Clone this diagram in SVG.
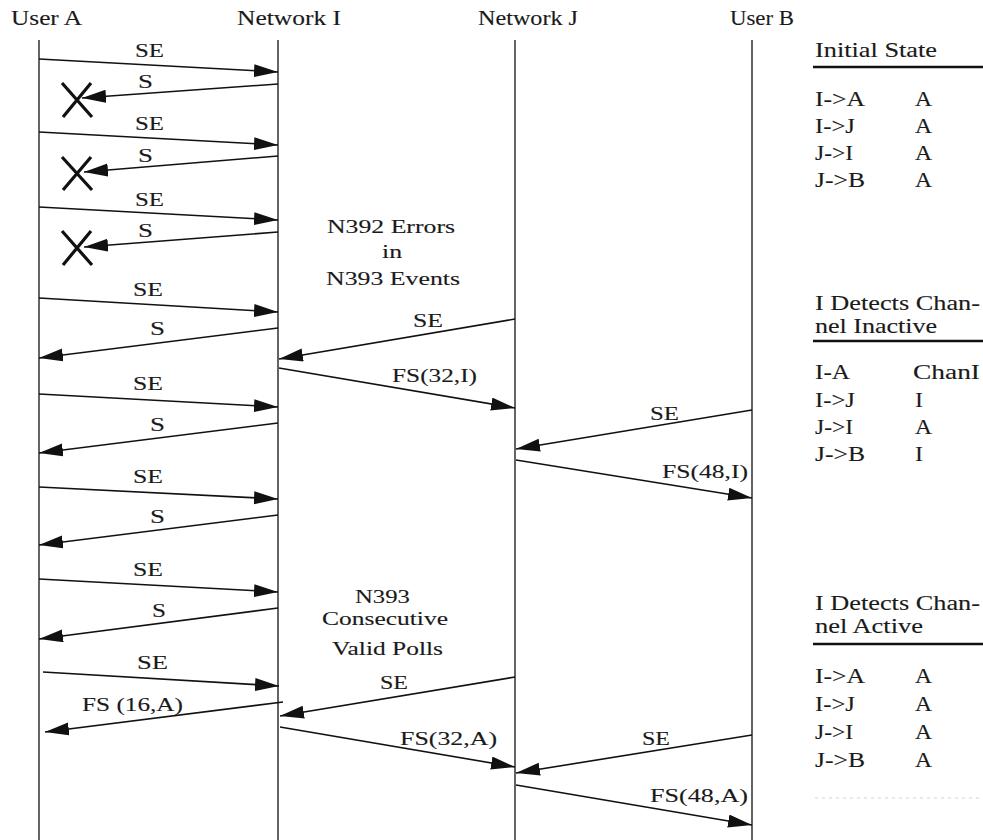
<svg xmlns="http://www.w3.org/2000/svg" width="983" height="840" viewBox="0 0 983 840">
<style>
text{font-family:"Liberation Serif","Times New Roman",serif;fill:#1a1a1a;stroke:#1a1a1a;stroke-width:0.12}
.h{font-size:20px}
.l{font-size:19.5px}
.t{font-size:21px}
.life{stroke:#222;stroke-width:1.4;fill:none}
.msg{stroke:#111;stroke-width:1.6;fill:none;marker-end:url(#ah)}
.x{stroke:#111;stroke-width:3.2;fill:none}
.rule{stroke:#111;stroke-width:2.5}
.faint{stroke:#d4d4d4;stroke-width:1;stroke-dasharray:3 4}
</style>
<defs>
<marker id="ah" markerUnits="userSpaceOnUse" markerWidth="26" markerHeight="14" refX="24" refY="6.5" orient="auto">
<path d="M0,0 L24,6.5 L0,13 z" fill="#111"/>
</marker>
</defs>
<rect width="983" height="840" fill="#fff"/>

<g id="userA">
<text class="h" x="11" y="25" textLength="71" lengthAdjust="spacingAndGlyphs">User A</text>
<line class="life" x1="39" y1="40" x2="39" y2="840"/>
</g>
<g id="networkI">
<text class="h" x="237" y="25" textLength="104" lengthAdjust="spacingAndGlyphs">Network I</text>
<line class="life" x1="278" y1="40" x2="278" y2="840"/>
</g>
<g id="networkJ">
<text class="h" x="478" y="25" textLength="100" lengthAdjust="spacingAndGlyphs">Network J</text>
<line class="life" x1="515" y1="40" x2="515" y2="840"/>
</g>
<g id="userB">
<text class="h" x="730" y="25" textLength="64" lengthAdjust="spacingAndGlyphs">User B</text>
<line class="life" x1="752" y1="40" x2="752" y2="840"/>
</g>

<g id="connectors">
<line class="msg" x1="39" y1="59" x2="278" y2="72"/>
<line class="msg" x1="278" y1="84" x2="82" y2="98"/>
<line class="msg" x1="39" y1="132" x2="278" y2="145"/>
<line class="msg" x1="278" y1="156" x2="84" y2="172"/>
<line class="msg" x1="39" y1="207" x2="278" y2="220"/>
<line class="msg" x1="278" y1="232" x2="84" y2="247"/>
<line class="msg" x1="39" y1="298" x2="278" y2="312"/>
<line class="msg" x1="278" y1="328" x2="39" y2="358"/>
<line class="msg" x1="39" y1="394" x2="278" y2="407"/>
<line class="msg" x1="278" y1="423" x2="39" y2="453"/>
<line class="msg" x1="39" y1="487" x2="278" y2="499"/>
<line class="msg" x1="278" y1="515" x2="39" y2="545"/>
<line class="msg" x1="39" y1="579" x2="278" y2="592"/>
<line class="msg" x1="278" y1="608" x2="39" y2="639"/>
<line class="msg" x1="43" y1="672" x2="279" y2="686"/>
<line class="msg" x1="283" y1="702" x2="45" y2="732"/>
<line class="msg" x1="515" y1="319" x2="279" y2="359"/>
<line class="msg" x1="279" y1="368" x2="515" y2="408"/>
<line class="msg" x1="752" y1="410" x2="516" y2="449"/>
<line class="msg" x1="516" y1="460" x2="752" y2="498"/>
<line class="msg" x1="515" y1="677" x2="280" y2="716"/>
<line class="msg" x1="280" y1="727" x2="515" y2="767"/>
<line class="msg" x1="752" y1="735" x2="516" y2="773"/>
<line class="msg" x1="516" y1="785" x2="752" y2="825"/>
<path class="x" d="M62,83 L92,117 M91,83 L63,117"/>
<path class="x" d="M62,157 L92,190 M91,157 L63,190"/>
<path class="x" d="M62,231 L92,265 M91,231 L63,265"/>
</g>

<g id="labels">
<text class="l" x="135" y="57" textLength="29" lengthAdjust="spacingAndGlyphs">SE</text>
<text class="l" x="138" y="88" textLength="15" lengthAdjust="spacingAndGlyphs">S</text>
<text class="l" x="135" y="130" textLength="29" lengthAdjust="spacingAndGlyphs">SE</text>
<text class="l" x="138" y="162" textLength="15" lengthAdjust="spacingAndGlyphs">S</text>
<text class="l" x="135" y="206" textLength="29" lengthAdjust="spacingAndGlyphs">SE</text>
<text class="l" x="138" y="237" textLength="15" lengthAdjust="spacingAndGlyphs">S</text>
<text class="l" x="133" y="296" textLength="30" lengthAdjust="spacingAndGlyphs">SE</text>
<text class="l" x="150" y="335" textLength="15" lengthAdjust="spacingAndGlyphs">S</text>
<text class="l" x="133" y="390" textLength="30" lengthAdjust="spacingAndGlyphs">SE</text>
<text class="l" x="150" y="431" textLength="15" lengthAdjust="spacingAndGlyphs">S</text>
<text class="l" x="133" y="483" textLength="30" lengthAdjust="spacingAndGlyphs">SE</text>
<text class="l" x="150" y="523" textLength="15" lengthAdjust="spacingAndGlyphs">S</text>
<text class="l" x="133" y="576" textLength="30" lengthAdjust="spacingAndGlyphs">SE</text>
<text class="l" x="152" y="617" textLength="14" lengthAdjust="spacingAndGlyphs">S</text>
<text class="l" x="137" y="669" textLength="31" lengthAdjust="spacingAndGlyphs">SE</text>
<text class="l" x="82" y="711" textLength="101" lengthAdjust="spacingAndGlyphs">FS (16,A)</text>
<text class="l" x="327" y="233" textLength="128" lengthAdjust="spacingAndGlyphs">N392 Errors</text>
<text class="l" x="382" y="258" textLength="20" lengthAdjust="spacingAndGlyphs">in</text>
<text class="l" x="326" y="285" textLength="134" lengthAdjust="spacingAndGlyphs">N393 Events</text>
<text class="l" x="413" y="327" textLength="30" lengthAdjust="spacingAndGlyphs">SE</text>
<text class="l" x="392" y="382" textLength="85" lengthAdjust="spacingAndGlyphs">FS(32,I)</text>
<text class="l" x="650" y="420" textLength="29" lengthAdjust="spacingAndGlyphs">SE</text>
<text class="l" x="662" y="478" textLength="86" lengthAdjust="spacingAndGlyphs">FS(48,I)</text>
<text class="l" x="355" y="603" textLength="55" lengthAdjust="spacingAndGlyphs">N393</text>
<text class="l" x="322" y="625" textLength="126" lengthAdjust="spacingAndGlyphs">Consecutive</text>
<text class="l" x="332" y="655" textLength="111" lengthAdjust="spacingAndGlyphs">Valid Polls</text>
<text class="l" x="380" y="689" textLength="28" lengthAdjust="spacingAndGlyphs">SE</text>
<text class="l" x="400" y="745" textLength="97" lengthAdjust="spacingAndGlyphs">FS(32,A)</text>
<text class="l" x="642" y="745" textLength="28" lengthAdjust="spacingAndGlyphs">SE</text>
<text class="l" x="650" y="802" textLength="98" lengthAdjust="spacingAndGlyphs">FS(48,A)</text>
</g>

<g id="table-initial">
<text class="t" x="815" y="57" textLength="122" lengthAdjust="spacingAndGlyphs">Initial State</text>
<line class="rule" x1="813" y1="67" x2="983" y2="67"/>
<text class="t" x="815" y="106" textLength="50" lengthAdjust="spacingAndGlyphs">I-&gt;A</text><text class="t" x="915" y="106" textLength="17" lengthAdjust="spacingAndGlyphs">A</text>
<text class="t" x="815" y="133" textLength="40" lengthAdjust="spacingAndGlyphs">I-&gt;J</text><text class="t" x="915" y="133" textLength="17" lengthAdjust="spacingAndGlyphs">A</text>
<text class="t" x="815" y="160" textLength="38" lengthAdjust="spacingAndGlyphs">J-&gt;I</text><text class="t" x="915" y="160" textLength="17" lengthAdjust="spacingAndGlyphs">A</text>
<text class="t" x="815" y="187" textLength="50" lengthAdjust="spacingAndGlyphs">J-&gt;B</text><text class="t" x="915" y="187" textLength="17" lengthAdjust="spacingAndGlyphs">A</text>
</g>

<g id="table-inactive">
<text class="t" x="815" y="310" textLength="165" lengthAdjust="spacingAndGlyphs">I Detects Chan-</text>
<text class="t" x="815" y="333" textLength="122" lengthAdjust="spacingAndGlyphs">nel Inactive</text>
<line class="rule" x1="813" y1="341" x2="983" y2="341"/>
<text class="t" x="815" y="379" textLength="35" lengthAdjust="spacingAndGlyphs">I-A</text><text class="t" x="913" y="379" textLength="67" lengthAdjust="spacingAndGlyphs">ChanI</text>
<text class="t" x="815" y="407" textLength="40" lengthAdjust="spacingAndGlyphs">I-&gt;J</text><text class="t" x="915" y="407" textLength="8" lengthAdjust="spacingAndGlyphs">I</text>
<text class="t" x="815" y="434" textLength="38" lengthAdjust="spacingAndGlyphs">J-&gt;I</text><text class="t" x="915" y="434" textLength="17" lengthAdjust="spacingAndGlyphs">A</text>
<text class="t" x="815" y="461" textLength="50" lengthAdjust="spacingAndGlyphs">J-&gt;B</text><text class="t" x="915" y="461" textLength="8" lengthAdjust="spacingAndGlyphs">I</text>
</g>

<g id="table-active">
<text class="t" x="815" y="610" textLength="165" lengthAdjust="spacingAndGlyphs">I Detects Chan-</text>
<text class="t" x="815" y="633" textLength="108" lengthAdjust="spacingAndGlyphs">nel Active</text>
<line class="rule" x1="813" y1="644" x2="983" y2="644"/>
<text class="t" x="815" y="683" textLength="50" lengthAdjust="spacingAndGlyphs">I-&gt;A</text><text class="t" x="915" y="683" textLength="17" lengthAdjust="spacingAndGlyphs">A</text>
<text class="t" x="815" y="711" textLength="40" lengthAdjust="spacingAndGlyphs">I-&gt;J</text><text class="t" x="915" y="711" textLength="17" lengthAdjust="spacingAndGlyphs">A</text>
<text class="t" x="815" y="739" textLength="38" lengthAdjust="spacingAndGlyphs">J-&gt;I</text><text class="t" x="915" y="739" textLength="17" lengthAdjust="spacingAndGlyphs">A</text>
<text class="t" x="815" y="767" textLength="50" lengthAdjust="spacingAndGlyphs">J-&gt;B</text><text class="t" x="915" y="767" textLength="17" lengthAdjust="spacingAndGlyphs">A</text>
<line class="faint" x1="815" y1="798" x2="983" y2="798"/>
</g>
</svg>
